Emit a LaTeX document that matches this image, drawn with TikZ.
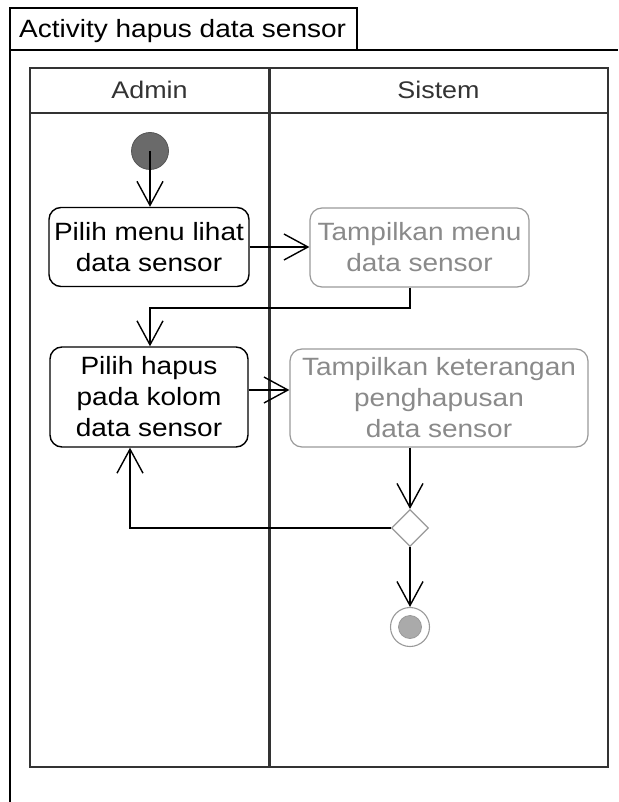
\documentclass[tikz,border=0pt]{standalone}
\usepackage{fontspec}
\newfontfamily\diagfont[FakeStretch=1.12]{Liberation Sans}
\usetikzlibrary{arrows.meta,shapes.geometric,calc}
\definecolor{frameline}{HTML}{333333}
\definecolor{sysgray}{HTML}{999999}
\definecolor{startgray}{HTML}{6A6A6A}
\definecolor{endgray}{HTML}{AAAAAA}
\begin{document}
\begin{tikzpicture}[x=1pt,y=-1pt,
  txt/.style={font=\diagfont\fontsize{25}{31}\selectfont, inner sep=0pt, align=center},
  admact/.style={txt, draw=black, line width=1.4, rounded corners=12, text=black},
  sysact/.style={txt, draw=sysgray, line width=1.2, rounded corners=12, text=sysgray!90!black},
  flow/.style={draw=black, line width=1.4, -{Straight Barb[length=24pt,width=26pt]}},
  plain/.style={draw=black, line width=1.4},
  lane/.style={draw=frameline, line width=2}
]
\useasboundingbox (0,0) rectangle (618,802);

% outer activity frame with its name tab
\draw[line width=1.3] (10,802) -- (10,8) -- (357,8) -- (357,50);
\draw[line width=1.3] (10,50) -- (618,50);
\node[txt, anchor=base west] (title) at (19,38) {Activity hapus data sensor};

% swimlanes
\draw[lane] (30,68) rectangle (608,767);
\draw[lane] (30,113) -- (608,113);
\draw[draw=frameline, line width=3] (269,68) -- (269,767);
\node[txt, anchor=base, text=frameline, font=\diagfont\fontsize{24}{29}\selectfont] (admin) at (149.5,99) {Admin};
\node[txt, anchor=base, text=frameline, font=\diagfont\fontsize{24}{29}\selectfont] (sistem) at (438.5,99) {Sistem};

% initial node
\node[circle, fill=startgray, draw=startgray!80!black, line width=0.8, minimum size=37, inner sep=0] (init) at (150,151) {};

% actions
\node[admact, minimum width=200, minimum height=79] (a1) at (149,247) {Pilih menu lihat\\data sensor};
\node[sysact, minimum width=219, minimum height=79] (a2) at (419.5,247.5) {Tampilkan menu\\data sensor};
\node[admact, minimum width=198, minimum height=100] (a3) at (149,397) {Pilih hapus\\pada kolom\\data sensor};
\node[sysact, minimum width=298, minimum height=98] (a4) at (439,398) {Tampilkan keterangan\\penghapusan\\data sensor};

% decision and final nodes
\node[diamond, draw=sysgray, line width=1.2, fill=white, minimum width=37, minimum height=37, inner sep=0] (dm) at (410,528) {};
\node[circle, draw=sysgray, line width=1.1, minimum size=39, inner sep=0] (fin) at (410,627) {};
\node[circle, draw=sysgray, fill=endgray, line width=0.8, minimum size=23, inner sep=0] (finc) at (fin.center) {};

% guide coordinates for the routed connectors
\coordinate (sx) at (410,0);
\coordinate (turn) at (0,308);
\coordinate (ay) at (0,390);
\coordinate (bx) at (130,0);

% control flow
\draw[flow] (init.center) -- (init.center |- a1.north);
\draw[flow] (a1.east) -- (a1.east -| a2.west);
\draw[flow] (a2.south -| sx) |- (turn -| init.center) -- (a3.north -| init.center);
\draw[flow] (a3.east |- ay) -- (a4.west |- ay);
\draw[flow] (a4.south -| sx) -- (dm.north);
\draw[flow] (dm.west) -| (a3.south -| bx);
\draw[flow] (dm.south) -- (fin.north);
\end{tikzpicture}
\end{document}
